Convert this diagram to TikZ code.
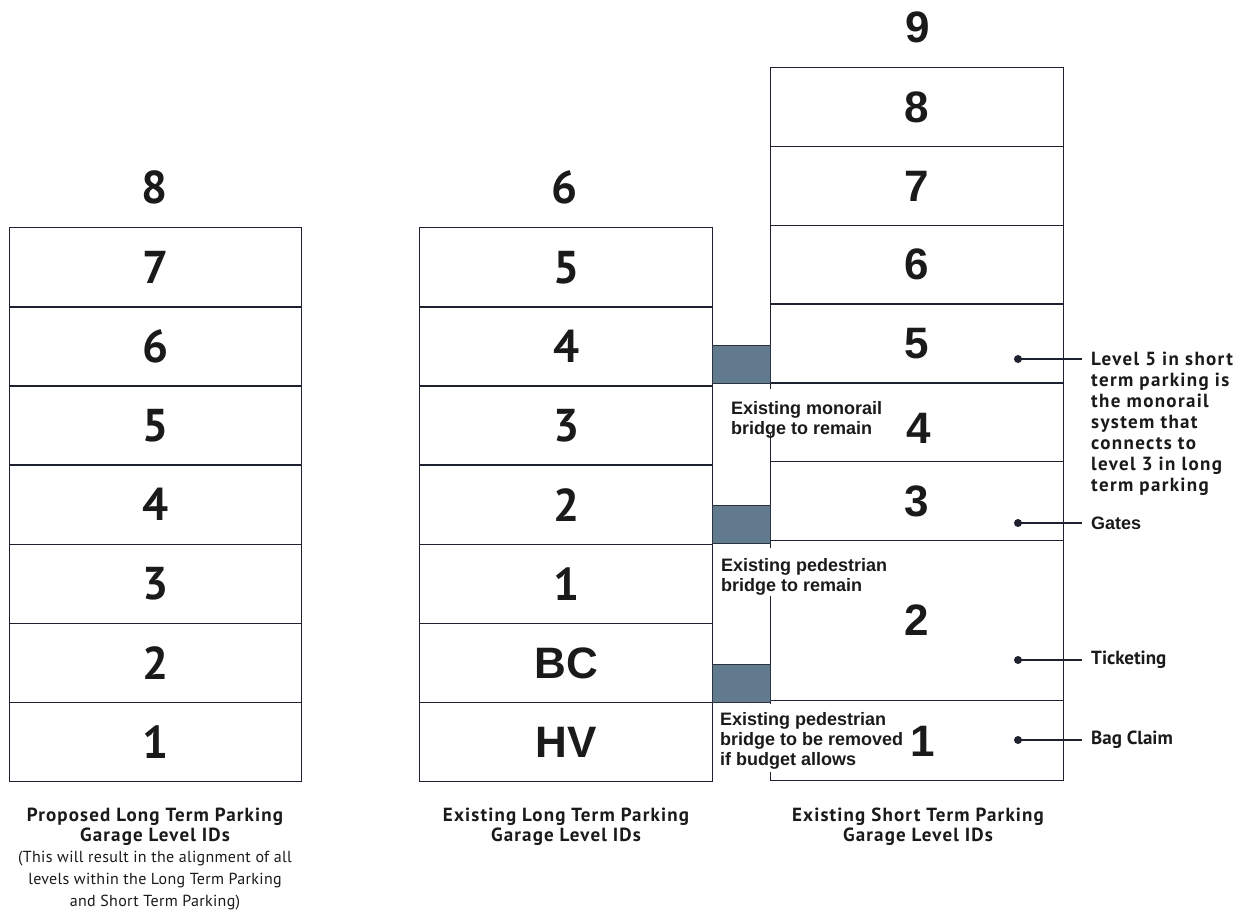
\documentclass[tikz,border=0pt]{standalone}
\usepackage{fontspec}
\setmainfont{Liberation Sans}
\newfontfamily\myr{PT Sans}
\newfontfamily\myrw[LetterSpace=6]{PT Sans}
\newfontfamily\myrn[LetterSpace=2]{PT Sans}
\newfontfamily\myra[LetterSpace=7]{PT Sans}
\definecolor{linec}{HTML}{1E2230}
\definecolor{txt}{HTML}{1A1A1A}
\definecolor{bridgec}{HTML}{627A8E}
\definecolor{bridgeb}{HTML}{2B3440}
\begin{document}
\begin{tikzpicture}[x=1pt,y=-1pt,
  lvl/.style={draw=linec, line width=1.4pt, inner sep=0pt, anchor=north west, text=txt},
  lvlL/.style={lvl, minimum width=292pt, minimum height=79.14pt, font=\myr\bfseries\fontsize{46}{46}\selectfont},
  lvlM/.style={lvl, minimum width=293pt, minimum height=79.14pt, font=\myr\bfseries\fontsize{46}{46}\selectfont},
  lvlR/.style={lvl, minimum width=293pt, font=\bfseries\fontsize{44}{44}\selectfont},
  topnum/.style={text=txt, inner sep=0pt},
  bridge/.style={draw=bridgeb, line width=1.2pt, fill=bridgec, anchor=north west, minimum width=58pt, minimum height=38pt, inner sep=0pt},
  patch/.style={fill=white, draw=none, anchor=north west, minimum width=8pt, inner sep=0pt},
  blabel/.style={anchor=north west, inner sep=0pt, align=left, text=txt, font=\bfseries\fontsize{18}{20}\selectfont},
  ann/.style={anchor=west, inner sep=0pt, text=txt, font=\myr\bfseries\fontsize{19}{21}\selectfont},
  dot/.style={circle, fill=linec, inner sep=0pt, minimum size=8pt},
  leader/.style={draw=linec, line width=1.5pt},
  capb/.style={anchor=north, inner sep=0pt, align=center, text=txt, font=\myrw\bfseries\fontsize{19}{19.5}\selectfont},
  capr/.style={anchor=north, inner sep=0pt, align=center, text=txt, font=\myrn\fontsize{16}{22}\selectfont}
]
\useasboundingbox[fill=white] (0,0) rectangle (1251,920);

% ---- proposed long term column ----
\node[topnum, font=\myr\bfseries\fontsize{46}{46}\selectfont] (L8) at (155,187) {8};
\foreach \n in {1,...,7}{
  \pgfmathsetmacro{\yy}{227+(7-\n)*79.14}
  \node[lvlL] (L\n) at (9,\yy) {\n};
}

% ---- existing long term column ----
\node[topnum, font=\myr\bfseries\fontsize{46}{46}\selectfont] (M6) at (565,187) {6};
\node[lvlM] (M5) at (419,227) {5};
\node[lvlM] (M4) at (419,306.14) {4};
\node[lvlM] (M3) at (419,385.28) {3};
\node[lvlM] (M2) at (419,464.42) {2};
\node[lvlM] (M1) at (419,543.56) {1};
\node[lvlM, font=\bfseries\fontsize{44}{44}\selectfont] (MBC) at (419,622.7) {BC};
\node[lvlM, font=\bfseries\fontsize{44}{44}\selectfont] (MHV) at (419,701.84) {HV};

% ---- existing short term column ----
\node[topnum, font=\bfseries\fontsize{44}{44}\selectfont] (R9) at (918,27) {9};
\node[lvlR, minimum height=78.8pt] (R8) at (770,67) {8};
\node[lvlR, minimum height=78.8pt] (R7) at (770,145.8) {7};
\node[lvlR, minimum height=78.8pt] (R6) at (770,224.6) {6};
\node[lvlR, minimum height=78.8pt] (R5) at (770,303.4) {5};
\node[lvlR, minimum height=78.8pt] (R4) at (770,382.2) {};
\node[lvlR, minimum height=78.8pt] (R3) at (770,461) {3};
\node[lvlR, minimum height=160pt] (R2) at (770,539.8) {2};
\node[lvlR, minimum height=80pt] (R1) at (770,699.8) {};
\node[text=txt, inner sep=0pt, font=\bfseries\fontsize{44}{44}\selectfont] (R4n) at (919,428) {4};
\node[text=txt, inner sep=0pt, font=\bfseries\fontsize{44}{44}\selectfont] (R1n) at (923,741) {1};

% ---- bridges ----
\node[bridge] (B1) at (712,345) {};
\node[bridge] (B2) at (712,504.5) {};
\node[bridge] (B3) at (712,663.5) {};

% gaps in the short term column edge behind the labels
\node[patch, minimum height=44pt] (P1) at (766,389) {};
\node[patch, minimum height=48pt] (P2) at (766,548) {};
\node[patch, minimum height=68pt] (P3) at (766,704) {};

\node[blabel] (T1) at (731,401) {Existing monorail\\bridge to remain};
\node[blabel] (T2) at (721,558) {Existing pedestrian\\bridge to remain};
\node[blabel] (T3) at (720,712) {Existing pedestrian\\bridge to be removed\\if budget allows};

% ---- annotations ----
\node[dot] (D5) at (1018,359) {};
\node[dot] (D3) at (1018,523) {};
\node[dot] (D2) at (1018,660) {};
\node[dot] (D1) at (1018,740) {};
\node[anchor=north west, inner sep=0pt, align=left, text=txt, font=\myra\bfseries\fontsize{19}{21}\selectfont] (A5) at (1091,352)
  {Level 5 in short\\term parking is\\the monorail\\system that\\connects to\\level 3 in long\\term parking};
\node[ann, font=\bfseries\fontsize{18}{20}\selectfont] (A3) at (1091,523) {Gates};
\node[ann] (A2) at (1091,660) {Ticketing};
\node[ann] (A1) at (1091,740) {Bag Claim};
\coordinate (E5) at (1082,359);
\path[leader] (D5.center) -- (E5);
\path[leader] (D3.center) -- ([xshift=-9pt]A3.west);
\path[leader] (D2.center) -- ([xshift=-9pt]A2.west);
\path[leader] (D1.center) -- ([xshift=-9pt]A1.west);

% ---- captions ----
\node[capb] (CL) at (155,808) {Proposed Long Term Parking\\Garage Level IDs};
\node[capr] (CL2) at (155,851) {(This will result in the alignment of all\\levels within the Long Term Parking\\and Short Term Parking)};
\node[capb] (CM) at (566,808) {Existing Long Term Parking\\Garage Level IDs};
\node[capb] (CR) at (918,808) {Existing Short Term Parking\\Garage Level IDs};
\end{tikzpicture}
\end{document}
